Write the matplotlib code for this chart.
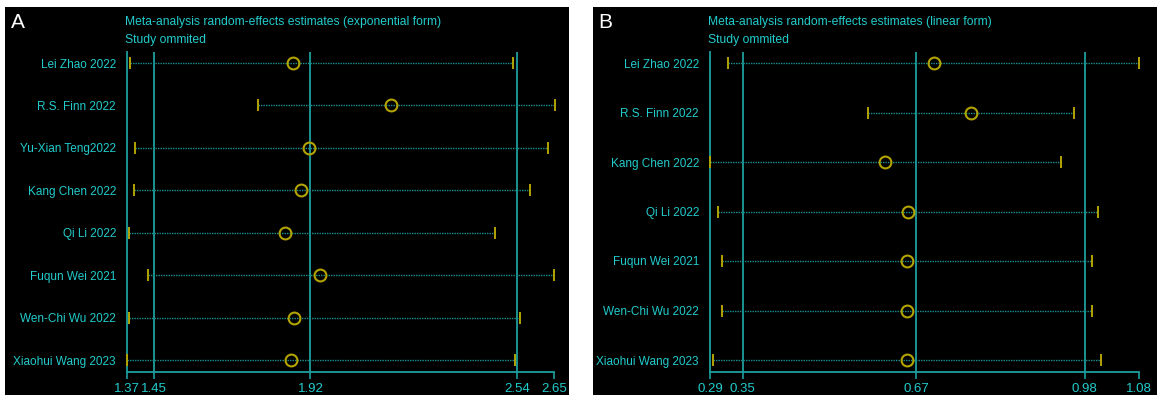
import matplotlib
matplotlib.use("Agg")
import matplotlib.pyplot as plt
from matplotlib.patches import Rectangle

plt.rcParams['font.family'] = ['Liberation Sans', 'DejaVu Sans']

# ---- Data ----
studies_a = ["Lei Zhao 2022", "R.S. Finn 2022", "Yu-Xian Teng2022", "Kang Chen 2022",
             "Qi Li 2022", "Fuqun Wei 2021", "Wen-Chi Wu 2022", "Xiaohui Wang 2023"]
lower_a = [1.380, 1.763, 1.393, 1.390, 1.376, 1.434, 1.376, 1.370]
est_a = [1.868, 2.162, 1.916, 1.893, 1.844, 1.950, 1.872, 1.863]
upper_a = [2.528, 2.652, 2.633, 2.577, 2.472, 2.650, 2.548, 2.534]
overall_a = [1.45, 1.92, 2.54]
ticks_a = [1.37, 1.45, 1.92, 2.54, 2.65]
ticklabels_a = ["1.37", "1.45", "1.92", "2.54", "2.65"]

studies_b = ["Lei Zhao 2022", "R.S. Finn 2022", "Kang Chen 2022", "Qi Li 2022",
             "Fuqun Wei 2021", "Wen-Chi Wu 2022", "Xiaohui Wang 2023"]
lower_b = [0.323, 0.581, 0.290, 0.305, 0.312, 0.312, 0.295]
est_b = [0.702, 0.771, 0.612, 0.654, 0.652, 0.652, 0.652]
upper_b = [1.080, 0.961, 0.937, 1.005, 0.993, 0.993, 1.010]
overall_b = [0.35, 0.67, 0.98]
ticks_b = [0.29, 0.35, 0.67, 0.98, 1.08]
ticklabels_b = ["0.29", "0.35", "0.67", "0.98", "1.08"]

W, H = 1157, 398
CYAN_TXT = "#22cccc"
TEAL = "#1e9e9e"
DOT = "#1a8f8f"
YEL = "#b3a400"

fig = plt.figure(figsize=(W / 100, H / 100), dpi=100, facecolor="white")

def fx(px):
    return px / W

def fy(py):
    return 1 - py / H

# black panels
for x0, x1 in [(5, 569), (593, 1157)]:
    fig.patches.append(Rectangle((fx(x0), fy(395)), fx(x1 - x0), (395 - 7) / H,
                                 transform=fig.transFigure, facecolor="black",
                                 edgecolor="none", zorder=-10))

def panel(letter, px_left, px_right, studies, lo, es, up, overall, ticks, ticklabels,
          title, letter_x):
    top_px, bot_px = 52, 372
    ax = fig.add_axes([fx(px_left), fy(bot_px), fx(px_right - px_left), (bot_px - top_px) / H])
    ax.set_facecolor("none")
    ax.set_zorder(5)
    n = len(studies)
    ys = list(range(1, n + 1))
    spacing = (360 - 63) / (n - 1)
    ax.set_ylim(n + 12 / spacing, 1 - 11 / spacing)
    ax.set_xlim(ticks[0], ticks[-1])
    for v in overall:
        ax.axvline(v, color=TEAL, lw=1.3, zorder=1)
    for y, l, e, u in zip(ys, lo, es, up):
        ax.plot([l, u], [y, y], color=DOT, lw=1.0, ls=(0, (1, 0.8)), zorder=2, clip_on=False)
        ax.plot([l, u], [y, y], ls="none", marker="|", ms=8, mew=1.4, color=YEL,
                zorder=3, clip_on=False)
        ax.plot([e], [y], ls="none", marker="o", ms=8.5, mfc="none", mec=YEL, mew=1.5,
                zorder=4, clip_on=False)
    ax.set_yticks(ys)
    ax.set_yticklabels(studies)
    ax.set_xticks(ticks)
    ax.set_xticklabels(ticklabels)
    for s in ["top", "right"]:
        ax.spines[s].set_visible(False)
    for s in ["left", "bottom"]:
        ax.spines[s].set_color(TEAL)
        ax.spines[s].set_linewidth(1.3)
    ax.tick_params(axis="y", length=0, pad=8, labelcolor=CYAN_TXT, labelsize=8.5)
    ax.tick_params(axis="x", length=5, width=1.2, color=TEAL, pad=3,
                   labelcolor=CYAN_TXT, labelsize=9.5)
    fig.text(fx(px_left - 2), fy(22), title, color=CYAN_TXT, fontsize=8.7, va="center", ha="left")
    fig.text(fx(px_left - 2), fy(40), "Study ommited", color=CYAN_TXT, fontsize=8.7,
             va="center", ha="left")
    fig.text(fx(letter_x), fy(22), letter, color="white", fontsize=15, va="center", ha="left")
    return ax

panel("A", 127, 554, studies_a, lower_a, est_a, upper_a, overall_a, ticks_a, ticklabels_a,
      "Meta-analysis random-effects estimates (exponential form)", 11)
panel("B", 710, 1139, studies_b, lower_b, est_b, upper_b, overall_b, ticks_b, ticklabels_b,
      "Meta-analysis random-effects estimates (linear form)", 598)

fig.savefig("out.png", dpi=100, facecolor="white")
